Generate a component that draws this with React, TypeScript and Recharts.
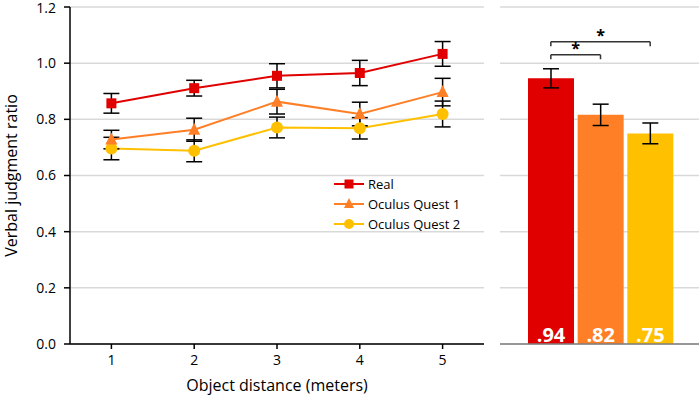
import {
  LineChart,
  Line,
  BarChart,
  Bar,
  Cell,
  XAxis,
  YAxis,
  CartesianGrid,
  ErrorBar,
  LabelList,
  ReferenceLine,
} from 'recharts';

const distances = [1, 2, 3, 4, 5];
const realMean = [0.857, 0.911, 0.955, 0.965, 1.033];
const realErr = [0.035, 0.028, 0.043, 0.045, 0.044];
const quest1Mean = [0.728, 0.763, 0.863, 0.819, 0.897];
const quest1Err = [0.033, 0.041, 0.044, 0.042, 0.049];
const quest2Mean = [0.696, 0.688, 0.771, 0.768, 0.819];
const quest2Err = [0.04, 0.039, 0.037, 0.038, 0.046];

const groups = ['Real', 'Oculus Quest 1', 'Oculus Quest 2'];
const overallMean = [0.946, 0.816, 0.75];
const overallErr = [0.034, 0.038, 0.037];
const overallLabels = ['.94', '.82', '.75'];

const yTicks = [0, 0.2, 0.4, 0.6, 0.8, 1.0, 1.2];

const RED = '#E00000';
const ORANGE = '#FF7F27';
const YELLOW = '#FFC000';
const COLORS = [RED, ORANGE, YELLOW];
const FONT = '"Open Sans", sans-serif';

const lineData = distances.map((d, i) => ({
  distance: d,
  real: realMean[i],
  realErr: realErr[i],
  quest1: quest1Mean[i],
  quest1Err: quest1Err[i],
  quest2: quest2Mean[i],
  quest2Err: quest2Err[i],
}));

const barData = groups.map((g, i) => ({
  name: g,
  value: overallMean[i],
  err: overallErr[i],
  label: overallLabels[i],
}));

// marker shapes
const Square = ({ cx, cy, color, size = 10 }) => (
  <rect x={cx - size / 2} y={cy - size / 2} width={size} height={size} fill={color} />
);
const Triangle = ({ cx, cy, color, size = 12 }) => (
  <polygon
    points={`${cx},${cy - size / 2 - 1} ${cx - size / 2},${cy + size / 2 - 1} ${cx + size / 2},${cy + size / 2 - 1}`}
    fill={color}
  />
);
const Circle = ({ cx, cy, color, r = 6 }) => <circle cx={cx} cy={cy} r={r} fill={color} />;

const markerFor = (key, cx, cy, small = false) => {
  if (key === 'real') return <Square cx={cx} cy={cy} color={RED} size={small ? 9 : 10} />;
  if (key === 'quest1') return <Triangle cx={cx} cy={cy} color={ORANGE} size={small ? 10 : 12} />;
  return <Circle cx={cx} cy={cy} color={YELLOW} r={small ? 5 : 6} />;
};

const renderDot = (key) => (props) => {
  const { cx, cy, index } = props;
  if (cx == null || cy == null) return null;
  return <g key={`${key}-${index}`}>{markerFor(key, cx, cy)}</g>;
};

const legendItems = [
  { key: 'real', label: 'Real', color: RED },
  { key: 'quest1', label: 'Oculus Quest 1', color: ORANGE },
  { key: 'quest2', label: 'Oculus Quest 2', color: YELLOW },
];

const ChartLegend = () => (
  <div style={{ fontFamily: FONT, fontSize: 13, color: '#000', lineHeight: '20px' }}>
    {legendItems.map((it) => (
      <div key={it.key} style={{ display: 'flex', alignItems: 'center', height: 20 }}>
        <svg width={32} height={14}>
          <line x1={0} x2={30} y1={7} y2={7} stroke={it.color} strokeWidth={2} />
          {markerFor(it.key, 15, 7, true)}
        </svg>
        <span style={{ marginLeft: 2 }}>{it.label}</span>
      </div>
    ))}
  </div>
);

const Star = ({ viewBox }) => {
  const { x, y, width } = viewBox;
  return (
    <text
      x={x + width / 2}
      y={y - 1}
      textAnchor="middle"
      fontFamily={FONT}
      fontSize={16}
      fontWeight="bold"
      fill="#000"
    >
      *
    </text>
  );
};

const App = () => {
  return (
    <div style={{ position: 'absolute', left: 0, top: 0, width: 699, height: 402, background: '#fff' }}>
      <div style={{ position: 'absolute', left: 0, top: 0 }}>
        <LineChart width={490} height={402} data={lineData} margin={{ top: 7, right: 6, bottom: 0, left: 0 }}>
          <CartesianGrid vertical={false} stroke="#d9d9d9" strokeWidth={1.5} />
          <XAxis
            dataKey="distance"
            type="number"
            domain={[0.5, 5.5]}
            ticks={distances}
            height={58}
            stroke="#000"
            strokeWidth={1.5}
            tickSize={5}
            tickMargin={6}
            tick={{ fill: '#000', fontFamily: FONT, fontSize: 14 }}
            label={{
              value: 'Object distance (meters)',
              position: 'insideBottom',
              offset: 11,
              fill: '#000',
              fontFamily: FONT,
              fontSize: 16,
            }}
          />
          <YAxis
            domain={[0, 1.2]}
            ticks={yTicks}
            width={70}
            stroke="#000"
            strokeWidth={1.5}
            tickSize={6}
            tickMargin={8}
            tickFormatter={(v) => v.toFixed(1)}
            tick={{ fill: '#000', fontFamily: FONT, fontSize: 14 }}
            label={{
              value: 'Verbal judgment ratio',
              angle: -90,
              position: 'insideLeft',
              offset: 11,
              style: { textAnchor: 'middle' },
              fill: '#000',
              fontFamily: FONT,
              fontSize: 16,
            }}
          />
          <Line
            dataKey="quest2"
            stroke={YELLOW}
            strokeWidth={2}
            dot={renderDot('quest2')}
            isAnimationActive={false}
          >
            <ErrorBar dataKey="quest2Err" width={8} stroke="#000" strokeWidth={1.5} />
          </Line>
          <Line
            dataKey="quest1"
            stroke={ORANGE}
            strokeWidth={2}
            dot={renderDot('quest1')}
            isAnimationActive={false}
          >
            <ErrorBar dataKey="quest1Err" width={8} stroke="#000" strokeWidth={1.5} />
          </Line>
          <Line
            dataKey="real"
            stroke={RED}
            strokeWidth={2}
            dot={renderDot('real')}
            isAnimationActive={false}
          >
            <ErrorBar dataKey="realErr" width={8} stroke="#000" strokeWidth={1.5} />
          </Line>
        </LineChart>
      </div>
      <div style={{ position: 'absolute', left: 334, top: 174 }}>
        <ChartLegend />
      </div>
      <div style={{ position: 'absolute', left: 490, top: 0 }}>
        <BarChart
          width={209}
          height={402}
          data={barData}
          margin={{ top: 7, right: 0, bottom: 0, left: 10 }}
          barCategoryGap={2}
        >
          <CartesianGrid vertical={false} stroke="#d9d9d9" strokeWidth={1.5} />
          <XAxis
            dataKey="name"
            height={58}
            tick={false}
            tickLine={false}
            stroke="#7f7f7f"
            strokeWidth={1.5}
            padding={{ left: 26, right: 24 }}
          />
          <YAxis domain={[0, 1.2]} ticks={yTicks} hide />
          <Bar dataKey="value" isAnimationActive={false}>
            {barData.map((entry, index) => (
              <Cell key={`cell-${index}`} fill={COLORS[index]} />
            ))}
            <ErrorBar dataKey="err" width={8} stroke="#000" strokeWidth={1.5} />
            <LabelList
              dataKey="label"
              position="insideBottom"
              offset={2}
              fill="#fff"
              fontFamily={FONT}
              fontSize={20}
              fontWeight="bold"
            />
          </Bar>
          {/* significance brackets */}
          <ReferenceLine
            segment={[{ x: groups[0], y: 1.076 }, { x: groups[2], y: 1.076 }]}
            stroke="#333"
            strokeWidth={1.5}
            label={<Star />}
          />
          <ReferenceLine segment={[{ x: groups[0], y: 1.076 }, { x: groups[0], y: 1.06 }]} stroke="#333" strokeWidth={1.5} />
          <ReferenceLine segment={[{ x: groups[2], y: 1.076 }, { x: groups[2], y: 1.06 }]} stroke="#333" strokeWidth={1.5} />
          <ReferenceLine
            segment={[{ x: groups[0], y: 1.03 }, { x: groups[1], y: 1.03 }]}
            stroke="#333"
            strokeWidth={1.5}
            label={<Star />}
          />
          <ReferenceLine segment={[{ x: groups[0], y: 1.03 }, { x: groups[0], y: 1.014 }]} stroke="#333" strokeWidth={1.5} />
          <ReferenceLine segment={[{ x: groups[1], y: 1.03 }, { x: groups[1], y: 1.014 }]} stroke="#333" strokeWidth={1.5} />
        </BarChart>
      </div>
    </div>
  );
};

export default App;
